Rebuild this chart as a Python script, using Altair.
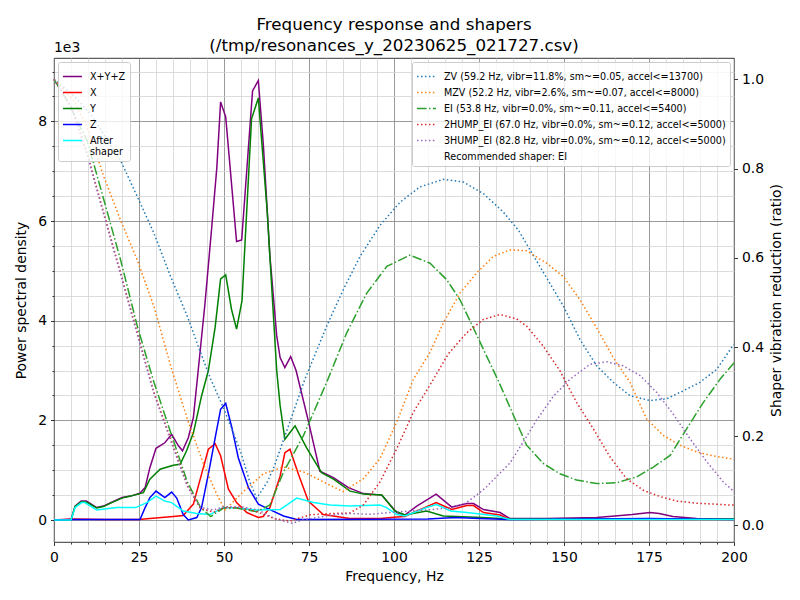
import altair as alt
import pandas as pd

FONT = "DejaVu Sans"

## power spectral density curves, values in units of 1e3
xyz_freq = [0, 5, 6.2, 8, 9.5, 12.6, 14.5, 17, 20, 22.5, 25.3, 26.8, 28.2, 30, 32.6, 34.6, 36.6, 37.8,
            39.5, 41, 42.5, 44.4, 46.4, 47.9, 49, 50.5, 53.7, 55.2, 58.4, 60.1, 61.6, 63.5, 65.5, 66.5,
            67.9, 69.6, 71.2, 74.8, 78.2, 82.2, 86.6, 91, 96.4, 100.8, 103.2, 106.7, 112.4, 117, 121.4,
            123.4, 126.3, 131.2, 134.1, 145, 159.6, 165, 170, 175.3, 178, 182, 189, 200]
xyz_psd = [0, 0, 0.28, 0.38, 0.38, 0.25, 0.28, 0.36, 0.45, 0.48, 0.54, 0.65, 1.05, 1.44, 1.55, 1.72, 1.49, 1.39,
           1.65, 2.06, 3.06, 4.34, 5.88, 7.08, 8.39, 8.09, 5.59, 5.62, 8.61, 8.82, 7.5, 5.3, 3.7, 3.26,
           3.06, 3.28, 3.0, 1.99, 0.98, 0.85, 0.65, 0.53, 0.5, 0.15, 0.1, 0.28, 0.52, 0.26, 0.33,
           0.33, 0.21, 0.15, 0.03, 0.03, 0.05, 0.08, 0.11, 0.15, 0.13, 0.07, 0.03, 0.02]

x_freq = [0, 5, 15, 25, 28.2, 35.1, 38, 41, 43.4, 45.4, 47.4, 49, 51.3, 53.7, 56.7, 60.1, 61.5, 63.5, 66.5,
          67.9, 69.4, 71.9, 74.8, 79.2, 87, 96, 100.8, 103.2, 106.7, 112.4, 117, 121.4, 123.4, 126.3, 131.2,
          134.1, 200]
x_psd = [0, 0.02, 0.01, 0.01, 0.03, 0.07, 0.09, 0.32, 0.92, 1.42, 1.53, 1.29, 0.62, 0.35, 0.15, 0.05, 0.07, 0.25, 0.88,
         1.35, 1.42, 0.92, 0.38, 0.11, 0.03, 0.03, 0.06, 0.07, 0.18, 0.35, 0.21, 0.29, 0.29, 0.15, 0.1,
         0.01, 0.01]

y_freq = [0, 5, 6.2, 8, 9.5, 12.6, 14.5, 17, 20, 22.5, 25.3, 26.3, 28.2, 31.2, 35.1, 37.1, 39, 41, 43.4, 45.4,
          47.4, 49, 50.5, 52.2, 53.7, 55.3, 58.1, 60.1, 62.7, 65.5, 66.5, 67.9, 70.9, 74.3, 78.7, 82.2, 87.1,
          91, 96.4, 100.3, 103.2, 109.6, 114.5, 125.9, 134, 200]
y_psd = [0, 0, 0.27, 0.36, 0.36, 0.24, 0.27, 0.35, 0.44, 0.48, 0.53, 0.55, 0.82, 1.02, 1.1, 1.12, 1.39, 1.75, 2.49, 3.0,
         3.87, 4.84, 4.92, 4.23, 3.83, 4.40, 8.05, 8.47, 6.2, 3.0, 2.3, 1.62, 1.89, 1.45, 0.95, 0.82, 0.58,
         0.52, 0.5, 0.18, 0.1, 0.18, 0.08, 0.05, 0.02, 0.02]

z_freq = [0, 5, 25.3, 26.8, 28.2, 30, 32.6, 34.6, 36.1, 38, 39.5, 42, 43.4, 45.4, 47.4, 49, 50.5, 52.3, 54.2,
          57.2, 60.1, 63.5, 67.5, 71.4, 110, 118, 125, 135, 175, 200]
z_psd = [0, 0.01, 0.01, 0.25, 0.45, 0.58, 0.45, 0.56, 0.44, 0.11, 0.0, 0.05, 0.25, 0.92, 1.65, 2.22, 2.34, 1.86, 1.25,
         0.65, 0.32, 0.21, 0.08, 0.01, 0.02, 0.05, 0.03, 0.01, 0.03, 0.01]

after_freq = [0, 5, 6.2, 8.1, 9.1, 12.6, 18.4, 24, 27.3, 30, 32.6, 34.6, 38, 42, 45.9, 49.8, 53.7, 59.5, 66.5,
              71.4, 76.3, 81.2, 87, 95.9, 97.8, 100.8, 103.2, 109.6, 112.5, 116.7, 121.4, 125.3, 130.2, 134, 200]
after_psd = [0, 0, 0.25, 0.35, 0.35, 0.2, 0.25, 0.25, 0.35, 0.48, 0.38, 0.35, 0.18, 0.13, 0.11, 0.25, 0.24, 0.2, 0.21,
             0.44, 0.35, 0.3, 0.28, 0.3, 0.25, 0.11, 0.08, 0.25, 0.31, 0.18, 0.15, 0.12, 0.08, 0.01, 0.01]

psd_names = ["X+Y+Z", "X", "Y", "Z", "After shaper"]
psd_colors = ["purple", "red", "green", "blue", "cyan"]

## shaper vibration reduction ratios
zv_freq = [0, 5.9, 10.8, 19.6, 25, 29.4, 34.3, 39.2, 43.1, 46.1, 50, 54.9, 57.5, 59.6, 62.7, 64.7, 73.8, 80.2,
           85.1, 90, 95.9, 101.8, 107.6, 114.5, 120.4, 126.3, 132.1, 136.6, 140, 144.9, 149.8, 154.7, 159.6,
           164.5, 169.4, 175.3, 180.2, 185.1, 190, 194.9, 199.3, 200]
zv_ratio = [1.0, 0.963, 0.922, 0.818, 0.729, 0.655, 0.558, 0.469, 0.388, 0.328, 0.261, 0.165, 0.10, 0.061, 0.097,
            0.131, 0.328, 0.447, 0.529, 0.603, 0.673, 0.725, 0.759, 0.776, 0.770, 0.744, 0.703, 0.662, 0.618,
            0.555, 0.492, 0.417, 0.358, 0.321, 0.291, 0.28, 0.284, 0.302, 0.321, 0.35, 0.399, 0.405]

mzv_freq = [0, 5.9, 9.8, 14.7, 19.6, 24.5, 29.4, 34.3, 39.2, 44.1, 48, 50.3, 55.7, 61.6, 67.5, 73.4, 80.2, 85,
            91, 95.9, 100.8, 105.7, 110.6, 114.5, 119.4, 124.3, 129.2, 134.1, 139, 144.9, 149.8, 154.7, 159.6,
            164.5, 169.4, 174.3, 179.2, 184.1, 189, 193.9, 198.8, 200]
mzv_ratio = [1.0, 0.952, 0.892, 0.781, 0.684, 0.595, 0.491, 0.358, 0.239, 0.135, 0.068, 0.035, 0.076, 0.116, 0.131,
             0.12, 0.094, 0.076, 0.105, 0.15, 0.232, 0.328, 0.388, 0.454, 0.521, 0.566, 0.603, 0.618, 0.616,
             0.588, 0.558, 0.506, 0.443, 0.376, 0.321, 0.239, 0.202, 0.18, 0.165, 0.156, 0.15, 0.149]

ei_freq = [0, 3.9, 9.8, 14.7, 19.6, 24.5, 29.4, 34.3, 39.2, 43.1, 46.1, 49.8, 53.7, 59.6, 63.5, 67.5, 73.4, 80.2,
           86.1, 92, 97.9, 104.7, 110.6, 115.5, 119.4, 122.4, 126.3, 130.7, 134.1, 139, 143.9, 148.8, 153.7,
           159.6, 165.5, 171.4, 176.3, 181.2, 186.1, 191, 195.9, 199.6, 200]
ei_ratio = [1.0, 0.952, 0.862, 0.729, 0.595, 0.447, 0.321, 0.209, 0.098, 0.04, 0.02, 0.039, 0.039, 0.031, 0.046,
            0.12, 0.202, 0.321, 0.432, 0.521, 0.581, 0.606, 0.588, 0.551, 0.506, 0.458, 0.395, 0.324, 0.265,
            0.18, 0.139, 0.116, 0.102, 0.094, 0.096, 0.109, 0.131, 0.157, 0.217, 0.276, 0.328, 0.361, 0.365]

hump2_freq = [0, 5, 9.8, 14.7, 19.6, 24.5, 29.4, 34.3, 39.2, 43.1, 47, 50, 55, 60, 65, 69.4, 75.3, 82.2, 87, 91,
              95.9, 100.8, 105.7, 110.6, 116, 121.4, 126.3, 131.2, 136.1, 139, 143.9, 148.8, 153.7, 158.6,
              163.5, 168.4, 173.3, 178.2, 183.1, 189, 198.8, 200]
hump2_ratio = [1.0, 0.94, 0.833, 0.699, 0.566, 0.432, 0.298, 0.195, 0.09, 0.038, 0.03, 0.04, 0.04, 0.03, 0.015,
               0.01, 0.024, 0.027, 0.028, 0.046, 0.098, 0.172, 0.254, 0.315, 0.385, 0.432, 0.462, 0.473, 0.463,
               0.447, 0.402, 0.347, 0.276, 0.217, 0.154, 0.105, 0.079, 0.065, 0.055, 0.05, 0.046, 0.046]

hump3_freq = [0, 5, 9.8, 14.7, 19.6, 24.5, 29.4, 34.3, 39.2, 43.1, 47, 50, 55, 60, 65, 70, 73.4, 82.2, 87, 93,
              100, 110, 117, 121, 124.3, 127, 130.2, 134.1, 138, 142, 146.9, 151.8, 157.6, 162.6, 167.4, 172.4,
              177.3, 182.1, 187.1, 192, 196.8, 200]
hump3_ratio = [1.0, 0.94, 0.83, 0.695, 0.562, 0.428, 0.295, 0.19, 0.088, 0.04, 0.035, 0.042, 0.042, 0.035, 0.015,
               0.005, 0.013, 0.024, 0.027, 0.025, 0.03, 0.035, 0.04, 0.05, 0.068, 0.085, 0.11, 0.14, 0.187, 0.237,
               0.29, 0.328, 0.361, 0.367, 0.358, 0.336, 0.298, 0.25, 0.194, 0.143, 0.098, 0.076]

shaper_names = [
    "ZV (59.2 Hz, vibr=11.8%, sm~=0.05, accel<=13700)",
    "MZV (52.2 Hz, vibr=2.6%, sm~=0.07, accel<=8000)",
    "EI (53.8 Hz, vibr=0.0%, sm~=0.11, accel<=5400)",
    "2HUMP_EI (67.0 Hz, vibr=0.0%, sm~=0.12, accel<=5000)",
    "3HUMP_EI (82.8 Hz, vibr=0.0%, sm~=0.12, accel<=5000)",
    "Recommended shaper: EI",
]
shaper_colors = ["#1f77b4", "#ff7f0e", "#2ca02c", "#d62728", "#9467bd", "transparent"]
dotted = [1.5, 2.475]
dashdot = [9.6, 2.4, 1.5, 2.4]
shaper_dashes = [dotted, dotted, dashdot, dotted, dotted, [1, 0]]

x_ticks = list(range(0, 201, 5))
psd_ticks = [i * 0.5 for i in range(19)]
ratio_ticks = [0, 0.2, 0.4, 0.6, 0.8, 1.0]

## build long tables
psd_rows = []
for name, fr, vals in zip(psd_names, [xyz_freq, x_freq, y_freq, z_freq, after_freq],
                          [xyz_psd, x_psd, y_psd, z_psd, after_psd]):
    for f, v in zip(fr, vals):
        psd_rows.append({"freq": f, "psd": v, "series": name})
psd_df = pd.DataFrame(psd_rows)

shaper_rows = []
for name, fr, vals in zip(shaper_names, [zv_freq, mzv_freq, ei_freq, hump2_freq, hump3_freq],
                          [zv_ratio, mzv_ratio, ei_ratio, hump2_ratio, hump3_ratio]):
    for f, v in zip(fr, vals):
        shaper_rows.append({"freq": f, "ratio": v, "shaper": name})
shaper_df = pd.DataFrame(shaper_rows)

x_scale = alt.Scale(domain=[0, 200], nice=False, zero=False)

x_axis = alt.Axis(
    values=x_ticks,
    labelExpr="datum.value % 25 === 0 ? datum.label : ''",
    gridColor={"condition": {"test": "datum.value % 25 === 0", "value": "#808080"}, "value": "#d3d3d3"},
    tickSize={"condition": {"test": "datum.value % 25 === 0", "value": 3.5}, "value": 2},
    gridWidth=0.8, labelPadding=5, titlePadding=5, labelFlush=False, title="Frequency, Hz",
)
psd_axis = alt.Axis(
    values=psd_ticks,
    labelExpr="datum.value % 2 === 0 ? format(datum.value, 'd') : ''",
    gridColor={"condition": {"test": "datum.value % 2 === 0", "value": "#808080"}, "value": "#d3d3d3"},
    tickSize={"condition": {"test": "datum.value % 2 === 0", "value": 3.5}, "value": 2},
    gridWidth=0.8, labelPadding=4, titlePadding=9, labelFlush=False, title="Power spectral density",
)
ratio_axis = alt.Axis(
    orient="right", values=ratio_ticks, format=".1f", grid=False, tickSize=3.5,
    labelPadding=4, titlePadding=20, titleAngle=270, labelFlush=False,
    title="Shaper vibration reduction (ratio)",
)

legend_common = dict(
    title=None, symbolType="stroke", symbolStrokeWidth=1.5, symbolSize=361,
    labelFont=FONT, labelFontSize=9.6, labelColor="black", labelLimit=400, labelOffset=7,
    fillColor="rgba(255,255,255,0.8)", strokeColor="#cccccc", cornerRadius=2,
    padding=4, offset=4,
)

psd_lines = alt.Chart(psd_df).mark_line(strokeWidth=1.5).encode(
    x=alt.X("freq:Q", scale=x_scale, axis=x_axis),
    y=alt.Y("psd:Q", scale=alt.Scale(domain=[-0.441, 9.271], nice=False, zero=False), axis=psd_axis),
    color=alt.Color("series:N", scale=alt.Scale(domain=psd_names, range=psd_colors),
                    legend=alt.Legend(orient="top-left", rowPadding=-4.5,
                                      labelExpr="datum.label == 'After shaper' ? ['After', 'shaper'] : datum.label",
                                      **legend_common)),
)

shaper_legend = alt.Legend(orient="top-right", rowPadding=-5, **legend_common)
shaper_lines = alt.Chart(shaper_df).mark_line(strokeWidth=1.5).encode(
    x=alt.X("freq:Q", scale=x_scale, axis=x_axis),
    y=alt.Y("ratio:Q", scale=alt.Scale(domain=[-0.037, 1.048], nice=False, zero=False), axis=ratio_axis),
    color=alt.Color("shaper:N", scale=alt.Scale(domain=shaper_names, range=shaper_colors), legend=shaper_legend),
    strokeDash=alt.StrokeDash("shaper:N", scale=alt.Scale(domain=shaper_names, range=shaper_dashes),
                              legend=shaper_legend),
)

offset_text = alt.Chart(pd.DataFrame({"t": ["1e3"]})).mark_text(
    align="left", baseline="middle", font=FONT, fontSize=13.9, color="black"
).encode(x=alt.value(0), y=alt.value(-10), text="t:N")

chart = alt.layer(psd_lines, shaper_lines, offset_text).resolve_scale(
    y="independent", color="independent", strokeDash="independent"
).properties(
    width=680, height=484,
    padding={"left": 46, "top": 50, "right": 58, "bottom": 50},
    autosize=alt.AutoSizeParams(type="none"),
    title=alt.TitleParams(
        text=["Frequency response and shapers", "(/tmp/resonances_y_20230625_021727.csv)"],
        font=FONT, fontSize=16.7, fontWeight="normal", color="black", anchor="middle",
        lineHeight=21, offset=4, dy=18,
    ),
).configure_view(
    stroke="black", strokeWidth=0.8
).configure_axis(
    labelFont=FONT, labelFontSize=13.9, labelColor="black",
    titleFont=FONT, titleFontSize=13.9, titleColor="black", titleFontWeight="normal",
    tickColor="black", tickWidth=0.8, domain=False, gridOpacity=1,
)

chart.save("out.html", embed_options={"renderer": "svg", "actions": False})
